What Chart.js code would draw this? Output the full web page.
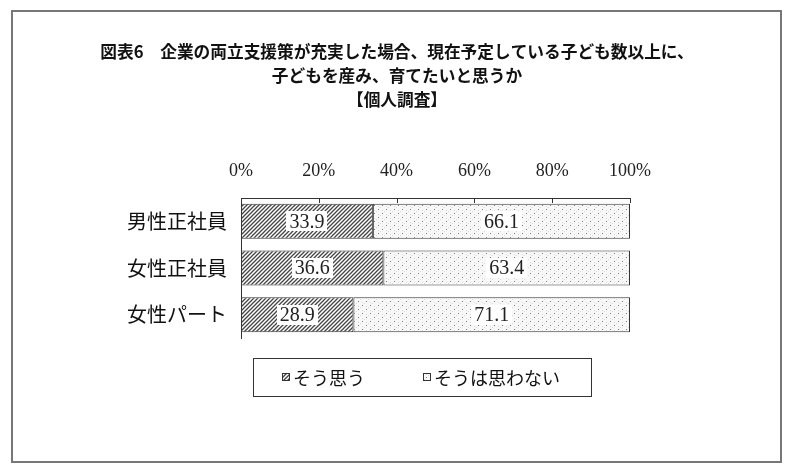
<!DOCTYPE html>
<html lang="ja">
<head>
<meta charset="UTF-8">
<title>図表6</title>
<script src="https://cdn.jsdelivr.net/npm/chart.js@4/dist/chart.umd.min.js"></script>
<style>
  html, body { margin: 0; padding: 0; background: #fff; }
  #wrap { width: 799px; height: 476px; }
</style>
</head>
<body>
<div id="wrap"><canvas id="mycanvas" width="799" height="476"></canvas></div>
<script>
// data
var categories = ['男性正社員', '女性正社員', '女性パート'];
var soOmou = [33.9, 36.6, 28.9];        // そう思う
var omowanai = [66.1, 63.4, 71.1];      // そうは思わない
var seriesNames = ['そう思う', 'そうは思わない'];
var titleLines = [
  '図表6　企業の両立支援策が充実した場合、現在予定している子ども数以上に、',
  '子どもを産み、育てたいと思うか',
  '【個人調査】'
];

var serif = "'Liberation Serif', 'DejaVu Serif', serif";
var jp = "'Noto Sans CJK JP', 'Noto Sans', sans-serif";

// hatch "////" pattern
function hatchPattern() {
  var c = document.createElement('canvas');
  c.width = 4; c.height = 4;
  var g = c.getContext('2d');
  g.fillStyle = '#ffffff';
  g.fillRect(0, 0, 4, 4);
  g.strokeStyle = '#444';
  g.lineWidth = 1.3;
  g.beginPath();
  g.moveTo(0, 4); g.lineTo(4, 0);
  g.moveTo(-1, 1); g.lineTo(1, -1);
  g.moveTo(3, 5); g.lineTo(5, 3);
  g.stroke();
  return g.createPattern(c, 'repeat');
}
// dotted pattern
function dotPattern() {
  var c = document.createElement('canvas');
  c.width = 8; c.height = 8;
  var g = c.getContext('2d');
  g.fillStyle = '#f8f8f8';
  g.fillRect(0, 0, 8, 8);
  g.fillStyle = '#d8d8d8';
  g.fillRect(0, 3, 1, 1); g.fillRect(4, 7, 1, 1);
  g.fillRect(6, 2, 1, 1); g.fillRect(2, 6, 1, 1);
  g.fillStyle = '#777';
  g.fillRect(2, 1, 1, 1);
  g.fillRect(6, 5, 1, 1);
  return g.createPattern(c, 'repeat');
}

var fills = [hatchPattern(), dotPattern()];

// title, frame, inner tick marks, value boxes and legend
var extras = {
  id: 'extras',
  afterDatasetsDraw: function (chart) {
    var ctx = chart.ctx;
    ctx.save();
    ctx.font = '20px ' + serif;
    ctx.textAlign = 'center';
    ctx.textBaseline = 'middle';
    chart.data.datasets.forEach(function (ds, i) {
      var meta = chart.getDatasetMeta(i);
      meta.data.forEach(function (bar, j) {
        var cx = (bar.x + bar.base) / 2;
        var txt = ds.data[j].toFixed(1);
        var w = ctx.measureText(txt).width + 6;
        ctx.fillStyle = '#fff';
        ctx.fillRect(Math.round(cx - w / 2), Math.round(bar.y - 10), Math.round(w), 20);
        ctx.fillStyle = '#222';
        ctx.fillText(txt, cx, bar.y + 1);
      });
    });
    ctx.restore();
  },
  afterDraw: function (chart) {
    var ctx = chart.ctx;
    var x = chart.scales.x;
    var top = chart.chartArea.top;
    ctx.save();
    // title
    ctx.fillStyle = '#111';
    ctx.font = 'bold 16.7px ' + jp;
    ctx.textAlign = 'center';
    ctx.textBaseline = 'middle';
    titleLines.forEach(function (line, i) {
      ctx.fillText(line, 397, 52 + i * 24);
    });
    // tick marks pointing down from the top axis
    ctx.strokeStyle = '#333';
    ctx.lineWidth = 1;
    x.ticks.forEach(function (t) {
      var px = Math.round(x.getPixelForValue(t.value)) + 0.5;
      ctx.beginPath();
      ctx.moveTo(px, top);
      ctx.lineTo(px, top + 5);
      ctx.stroke();
    });
    // outer frame
    ctx.strokeStyle = '#777';
    ctx.lineWidth = 2;
    ctx.strokeRect(12, 11, 769, 451);
    // legend box
    ctx.strokeStyle = '#333';
    ctx.lineWidth = 1;
    ctx.strokeRect(253.5, 358.5, 338, 38);
    var itemX = [282, 423];
    ctx.font = '18px ' + jp;
    ctx.textBaseline = 'middle';
    ctx.textAlign = 'left';
    seriesNames.forEach(function (name, i) {
      ctx.fillStyle = fills[i];
      ctx.fillRect(itemX[i], 373, 8, 8);
      ctx.strokeStyle = '#333';
      ctx.strokeRect(itemX[i] + 0.5, 373.5, 7, 7);
      ctx.fillStyle = '#111';
      ctx.fillText(name, itemX[i] + 11, 378);
    });
    ctx.restore();
  }
};

new Chart(document.getElementById('mycanvas'), {
  type: 'bar',
  data: {
    labels: categories,
    datasets: [
      { label: seriesNames[0], data: soOmou, backgroundColor: fills[0],
        borderColor: '#333', borderWidth: 1, borderSkipped: false,
        barPercentage: 0.75, categoryPercentage: 1 },
      { label: seriesNames[1], data: omowanai, backgroundColor: fills[1],
        borderColor: '#333', borderWidth: 1, borderSkipped: false,
        barPercentage: 0.75, categoryPercentage: 1 }
    ]
  },
  options: {
    indexAxis: 'y',
    responsive: false,
    animation: false,
    layout: { padding: { left: 0, right: 169, top: 158, bottom: 138 } },
    plugins: {
      legend: { display: false },
      tooltip: { enabled: false },
      title: { display: false }
    },
    scales: {
      x: {
        position: 'top',
        stacked: true,
        min: 0,
        max: 100,
        ticks: {
          stepSize: 20,
          padding: 16,
          color: '#222',
          font: { family: serif, size: 18 },
          callback: function (v) { return v + '%'; }
        },
        grid: { display: false, drawTicks: false },
        border: { display: true, color: '#333', width: 1 },
        afterFit: function (s) { s.height = 40; }
      },
      y: {
        stacked: true,
        ticks: {
          padding: 14,
          color: '#111',
          font: { family: jp, size: 20 }
        },
        grid: { display: false, drawTicks: false },
        border: { display: true, color: '#333', width: 1 },
        afterFit: function (s) { s.width = 241; }
      }
    }
  },
  plugins: [extras]
});
</script>
</body>
</html>
